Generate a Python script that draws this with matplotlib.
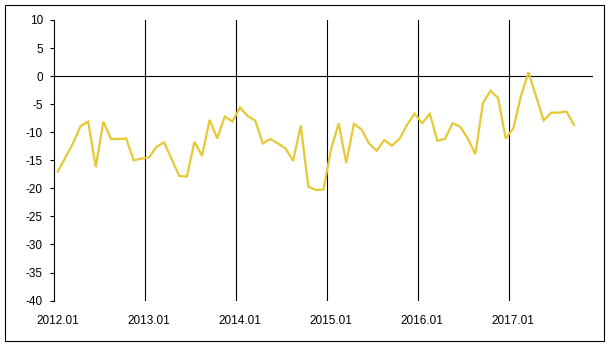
import matplotlib
matplotlib.use("Agg")

import matplotlib.pyplot as plt
from matplotlib.patches import Rectangle
import numpy as np

# ===========================================
# DATA
# ===========================================

tick_labels = ["2012.01", "2013.01", "2014.01", "2015.01", "2016.01", "2017.01"]

n_categories = 71

values = [
    -17.0, -14.5, -12.0, -8.9, -8.1, -16.2, -8.1, -11.2, -11.2, -11.1, -15.0, -14.7,
    -14.5, -12.6, -11.8, -14.8, -17.8, -17.9, -11.7, -14.2, -7.8, -11.1, -7.2, -8.1,
    -5.6, -7.1, -7.9, -12.0, -11.2, -12.0, -12.9, -15.1, -8.8, -19.7, -20.3, -20.2,
    -13.0, -8.4, -15.5, -8.5, -9.5, -12.0, -13.3, -11.4, -12.4, -11.2, -8.7, -6.7,
    -8.4, -6.7, -11.5, -11.2, -8.4, -9.0, -11.1, -13.9, -4.8, -2.6, -3.9, -11.1,
    -9.3, -3.6, 0.7, -3.6, -7.9, -6.5, -6.5, -6.3, -8.7,
]

y_ticks = list(range(-40, 11, 5))

# ===========================================
# FIGURE
# ===========================================

plt.rcParams["font.family"] = ["Liberation Sans", "DejaVu Sans"]

fig = plt.figure(figsize=(6.10, 3.47), dpi=100)

ax = fig.add_axes([54 / 610, 1 - 300.6 / 347, 539 / 610, 280.6 / 347])

x = np.arange(len(values))
tick_pos = [12 * k for k in range(len(tick_labels))]

ax.plot(x, values, color="#E5C935", linewidth=1.6, solid_joinstyle="miter")

# year separators and zero line
for k in tick_pos[1:]:
    ax.axvline(k - 0.5, color="black", linewidth=0.8, zorder=1)

ax.axhline(0, color="black", linewidth=0.8, zorder=1)

ax.set_xlim(-0.5, n_categories - 0.5)
ax.set_ylim(-40, 10)

ax.set_yticks(y_ticks)
ax.set_yticklabels([str(v) for v in y_ticks])

ax.set_xticks(tick_pos)
ax.set_xticklabels(tick_labels)

ax.tick_params(axis="y", length=3, width=0.8, pad=5, labelsize=8.5, colors="black")
ax.tick_params(axis="x", length=0, pad=10.5, labelsize=8.5, colors="black")

for side in ["top", "right", "bottom"]:
    ax.spines[side].set_visible(False)

ax.spines["left"].set_linewidth(0.8)
ax.spines["left"].set_color("black")

# outer border
fig.patches.append(
    Rectangle(
        (5 / 610, 1 - 341 / 347),
        599 / 610,
        336 / 347,
        fill=False,
        edgecolor="black",
        linewidth=0.8,
        transform=fig.transFigure,
    )
)

plt.savefig("out.png", dpi=100)

plt.close()
